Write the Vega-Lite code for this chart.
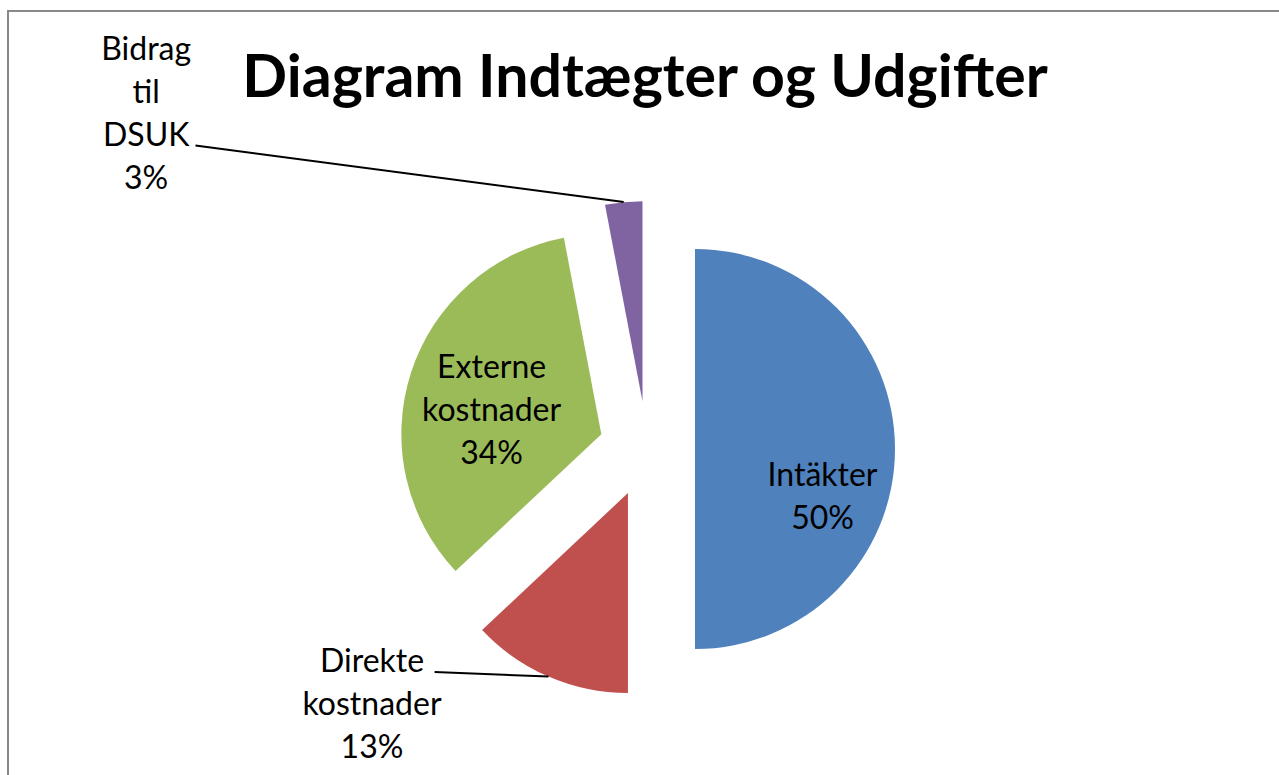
{
  "$schema": "https://vega.github.io/schema/vega-lite/v6.json",
  "width": 1290,
  "height": 790,
  "padding": {"left": 8, "top": 11, "right": 0, "bottom": 0},
  "autosize": {"type": "none"},
  "background": "white",
  "config": {"view": {"stroke": "#888888", "strokeWidth": 2}},
  "title": {
    "text": "Diagram Indtægter og Udgifter",
    "font": "Lato",
    "fontSize": 59,
    "fontWeight": "bold",
    "color": "black",
    "anchor": "middle",
    "baseline": "alphabetic",
    "offset": -89,
    "dy": 56,
    "dx": -8
  },
  "data": {
    "values": [
      {"category": "Intäkter", "value": 50},
      {"category": "Direkte kostnader", "value": 13},
      {"category": "Externe kostnader", "value": 34},
      {"category": "Bidrag til DSUK", "value": 3}
    ]
  },
  "transform": [
    {"window": [{"op": "sum", "field": "value", "as": "end"}], "frame": [null, 0]},
    {"calculate": "datum.end - datum.value", "as": "start"},
    {"calculate": "PI * (datum.start + datum.end) / 100", "as": "mid"},
    {"calculate": "48 * sin(datum.mid)", "as": "ex"},
    {"calculate": "48 * cos(datum.mid)", "as": "ey"},
    {"calculate": "datum.category + ' ' + datum.value + '%'", "as": "label"},
    {"calculate": "length(split(datum.label, ' '))", "as": "nLines"},
    {"calculate": "PI / 180 * (datum.category === 'Intäkter' ? 105.3 : datum.category === 'Direkte kostnader' ? 227.0 : datum.category === 'Externe kostnader' ? 283.8 : 303.7)", "as": "labAng"},
    {"calculate": "200 * (datum.category === 'Intäkter' ? 0.91 : datum.category === 'Direkte kostnader' ? 1.88 : datum.category === 'Externe kostnader' ? 0.80 : 3.01)", "as": "labDist"},
    {"calculate": "datum.labDist * sin(datum.labAng)", "as": "lx"},
    {"calculate": "datum.labDist * cos(datum.labAng) + (datum.nLines - 1) * 21.5", "as": "ly"},
    {"calculate": "PI / 180 * (datum.category === 'Direkte kostnader' ? 223.6 : 303.9)", "as": "lsAng"},
    {"calculate": "200 * (datum.category === 'Direkte kostnader' ? 1.54 : 2.72)", "as": "lsDist"},
    {"calculate": "datum.lsDist * sin(datum.lsAng)", "as": "lsx"},
    {"calculate": "datum.lsDist * cos(datum.lsAng)", "as": "lsy"},
    {"calculate": "248 * sin(datum.mid)", "as": "lex"},
    {"calculate": "248 * cos(datum.mid)", "as": "ley"}
  ],
  "encoding": {
    "x": {"field": "ex", "type": "quantitative", "scale": {"domain": [-639, 651], "nice": false, "zero": false}, "axis": null},
    "y": {"field": "ey", "type": "quantitative", "scale": {"domain": [-352, 438], "nice": false, "zero": false}, "axis": null}
  },
  "layer": [
    {
      "mark": {"type": "arc", "radius": 200},
      "encoding": {
        "theta": {"field": "start", "type": "quantitative", "stack": null, "scale": {"domain": [0, 100], "range": [0, 6.283185307179586]}},
        "theta2": {"field": "end"},
        "color": {
          "field": "category",
          "type": "nominal",
          "scale": {
            "domain": ["Intäkter", "Direkte kostnader", "Externe kostnader", "Bidrag til DSUK"],
            "range": ["#4F81BD", "#C0504D", "#9BBB59", "#8064A2"]
          },
          "legend": null
        }
      }
    },
    {
      "transform": [{"filter": "datum.value < 20"}],
      "mark": {"type": "rule", "color": "black", "strokeWidth": 2},
      "encoding": {
        "x": {"field": "lsx", "type": "quantitative"},
        "y": {"field": "lsy", "type": "quantitative"},
        "x2": {"field": "lex"},
        "y2": {"field": "ley"}
      }
    },
    {
      "mark": {"type": "text", "font": "Lato", "fontSize": 32, "lineBreak": " ", "lineHeight": 43, "baseline": "middle", "align": "center", "color": "black"},
      "encoding": {
        "x": {"field": "lx", "type": "quantitative"},
        "y": {"field": "ly", "type": "quantitative"},
        "text": {"field": "label", "type": "nominal"}
      }
    }
  ]
}
